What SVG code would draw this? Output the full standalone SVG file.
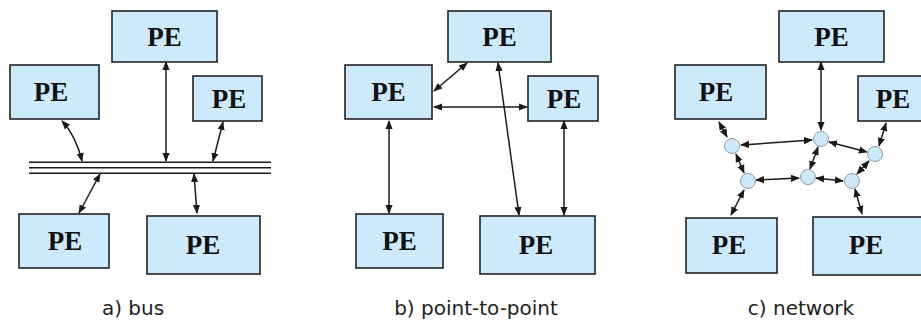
<svg xmlns="http://www.w3.org/2000/svg" width="921" height="322" viewBox="0 0 921 322">
  <style>
    .pe rect { fill: #cdeafc; stroke: #222; stroke-width: 1.6; }
    .pe text { font-family: "Liberation Serif", "DejaVu Serif", serif; font-weight: bold; font-size: 27px; fill: #111; text-anchor: middle; }
    .sw { fill: #cde8f8; stroke: #8aa0ad; stroke-width: 1; }
    .link { fill: none; stroke: #1a1a1a; stroke-width: 1.5; marker-start: url(#ah); marker-end: url(#ah); }
    .bus { stroke: #1a1a1a; stroke-width: 1.4; }
    .cap { font-family: "DejaVu Sans", Verdana, sans-serif; font-size: 20px; fill: #222; text-anchor: middle; }
  </style>
  <defs>
    <marker id="ah" viewBox="0 0 10 10" refX="9" refY="5" markerWidth="9" markerHeight="9" markerUnits="userSpaceOnUse" orient="auto-start-reverse">
      <path d="M0,1 L10,5 L0,9 z" fill="#1a1a1a"/>
    </marker>
  </defs>

  <rect width="921" height="322" fill="#fff"/>

  <!-- a) bus -->
  <g id="bus-lines">
    <line class="bus" x1="29" y1="162.3" x2="271" y2="162.3"/>
    <line class="bus" x1="29" y1="167.8" x2="271" y2="167.8"/>
    <line class="bus" x1="29" y1="173.3" x2="271" y2="173.3"/>
  </g>
  <g id="a-top" class="pe"><rect x="112" y="11" width="105" height="51"/><text x="164.5" y="45.5">PE</text></g>
  <g id="a-left" class="pe"><rect x="10" y="65" width="89" height="54"/><text x="51" y="101">PE</text></g>
  <g id="a-right" class="pe"><rect x="193" y="76" width="69" height="45"/><text x="229" y="107.5">PE</text></g>
  <g id="a-botleft" class="pe"><rect x="19" y="214" width="90" height="54"/><text x="65" y="250">PE</text></g>
  <g id="a-botright" class="pe"><rect x="147" y="216" width="113" height="58"/><text x="203" y="254">PE</text></g>
  <g id="a-links">
    <path class="link" d="M62,121 Q76,136 82,161"/>
    <path class="link" d="M166,62 L166,161"/>
    <path class="link" d="M223,122 L213,161"/>
    <path class="link" d="M100,174 L79,213"/>
    <path class="link" d="M194,174 L197,213"/>
  </g>
  <text class="cap" x="133" y="315">a) bus</text>

  <!-- b) point-to-point -->
  <g id="b-top" class="pe"><rect x="448" y="11" width="103" height="51"/><text x="499.5" y="45.5">PE</text></g>
  <g id="b-left" class="pe"><rect x="345" y="65" width="87" height="54"/><text x="388.5" y="101">PE</text></g>
  <g id="b-right" class="pe"><rect x="528" y="76" width="70" height="45"/><text x="564" y="107.5">PE</text></g>
  <g id="b-botleft" class="pe"><rect x="356" y="214" width="87" height="54"/><text x="399.5" y="250">PE</text></g>
  <g id="b-botright" class="pe"><rect x="480" y="216" width="115" height="58"/><text x="536" y="254">PE</text></g>
  <g id="b-links">
    <path class="link" d="M467,63 L434,91"/>
    <path class="link" d="M434,107 L527,107"/>
    <path class="link" d="M389,121 L389,213"/>
    <path class="link" d="M564,121 L564,215"/>
    <path class="link" d="M498,63 L519,215"/>
  </g>
  <text class="cap" x="476" y="315">b) point-to-point</text>

  <!-- c) network -->
  <g id="c-top" class="pe"><rect x="779" y="11" width="105" height="51"/><text x="831.5" y="45.5">PE</text></g>
  <g id="c-left" class="pe"><rect x="675" y="65" width="91" height="54"/><text x="716" y="101">PE</text></g>
  <g id="c-right" class="pe"><rect x="858" y="76" width="70" height="45"/><text x="893" y="107.5">PE</text></g>
  <g id="c-botleft" class="pe"><rect x="686" y="218" width="91" height="55"/><text x="729" y="254">PE</text></g>
  <g id="c-botright" class="pe"><rect x="813" y="217" width="112" height="58"/><text x="866" y="254">PE</text></g>
  <g id="c-links">
    <path class="link" d="M719,122 L727,137"/>
    <path class="link" d="M741,145 L812,140"/>
    <path class="link" d="M821,62 L821,130"/>
    <path class="link" d="M829,142 L867,152"/>
    <path class="link" d="M886,123 L879,146"/>
    <path class="link" d="M736,154 L744,173"/>
    <path class="link" d="M756,180 L799,178"/>
    <path class="link" d="M810,169 L818,147"/>
    <path class="link" d="M816,178 L843,181"/>
    <path class="link" d="M857,174 L869,161"/>
    <path class="link" d="M744,190 L731,215"/>
    <path class="link" d="M855,189 L862,214"/>
  </g>
  <g id="c-switches">
    <circle class="sw" cx="732" cy="146" r="7.5"/>
    <circle class="sw" cx="821" cy="139" r="7.5"/>
    <circle class="sw" cx="875" cy="154" r="7.5"/>
    <circle class="sw" cx="748" cy="181" r="7.5"/>
    <circle class="sw" cx="808" cy="177" r="7.5"/>
    <circle class="sw" cx="852" cy="181" r="7.5"/>
  </g>
  <text class="cap" x="801" y="315">c) network</text>
</svg>
